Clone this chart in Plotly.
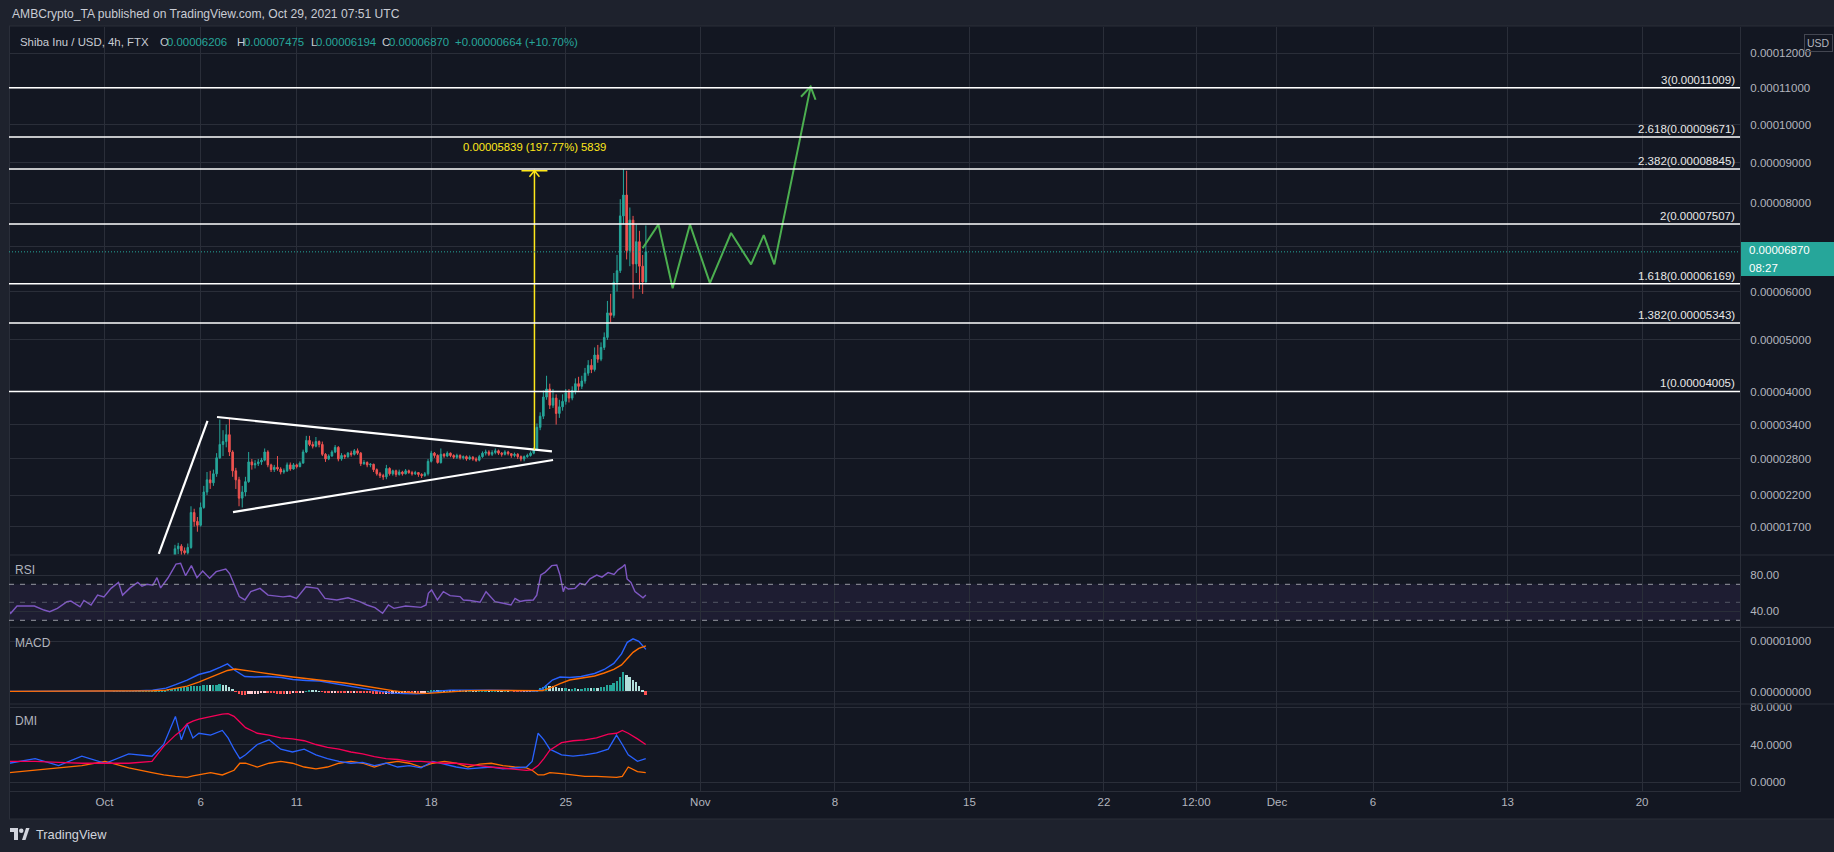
import numpy as np
import pandas as pd
import plotly.graph_objects as go

# ============================ DATA ============================
BASE_DATE = "2021-10-01 00:00"   # day 0 for every *_day list (UTC)

# 4h candles (prices in units of 1e-5 USD); open = previous close
candle_start = "2021-10-04 12:00"
first_open_e5 = 1.08
close_e5 = [
    1.15, 1.36, 1.40,
    1.33, 1.30, 1.38, 1.92, 1.78, 1.72,
    2.00, 2.25, 2.45, 2.40, 2.55, 2.82,
    3.05, 3.10, 3.22, 2.92, 2.60, 2.45,
    2.15, 2.25, 2.42, 2.75, 2.70, 2.72,
    2.75, 2.78, 2.92, 2.70, 2.62, 2.66,
    2.63, 2.58, 2.60, 2.70, 2.63, 2.70,
    2.67, 2.73, 2.92, 3.12, 3.05, 3.02,
    3.10, 3.05, 2.88, 2.80, 2.85, 2.92,
    3.00, 2.80, 2.86, 2.84, 2.90, 2.88,
    2.94, 2.90, 2.72, 2.74, 2.70, 2.71,
    2.62, 2.55, 2.52, 2.50, 2.64, 2.55,
    2.60, 2.54, 2.58, 2.55, 2.60, 2.57,
    2.55, 2.57, 2.54, 2.52, 2.55, 2.76,
    2.90, 2.86, 2.74, 2.88, 2.85, 2.90,
    2.86, 2.83, 2.86, 2.82, 2.84, 2.80,
    2.83, 2.80, 2.78, 2.84, 2.90, 2.92,
    2.88, 2.91, 2.94, 2.90, 2.88, 2.92,
    2.89, 2.86, 2.88, 2.84, 2.80, 2.84,
    2.86, 2.90, 2.96, 3.35, 3.55, 3.90,
    4.05, 3.75, 3.88, 3.60, 3.72, 3.82,
    3.98, 3.88, 4.02, 4.15, 4.10, 4.20,
    4.35, 4.50, 4.42, 4.70, 4.62, 4.85,
    5.05, 5.55, 5.50, 6.20, 6.45, 7.70,
    8.20, 6.90, 7.60, 6.60, 7.10, 6.55,
    6.206, 6.870,
]
high_e5 = [
    1.22, 1.42, 1.45,
    1.43, 1.38, 1.44, 2.02, 1.98, 1.85,
    2.08, 2.35, 2.58, 2.60, 2.62, 2.90,
    3.49, 3.30, 3.40, 3.52, 2.95, 2.65,
    2.50, 2.35, 2.50, 2.92, 2.80, 2.78,
    2.80, 2.82, 2.98, 2.95, 2.72, 2.70,
    2.85, 2.66, 2.64, 2.74, 2.74, 2.73,
    2.72, 2.76, 2.96, 3.20, 3.20, 3.10,
    3.18, 3.12, 3.10, 2.90, 2.88, 2.95,
    3.04, 3.02, 2.90, 2.88, 2.92, 2.94,
    2.97, 2.98, 2.92, 2.78, 2.76, 2.73,
    2.72, 2.64, 2.58, 2.55, 2.70, 2.66,
    2.62, 2.62, 2.62, 2.60, 2.63, 2.62,
    2.60, 2.60, 2.58, 2.56, 2.58, 2.80,
    2.94, 2.92, 2.88, 2.98, 2.90, 2.93,
    2.91, 2.88, 2.89, 2.88, 2.86, 2.86,
    2.86, 2.85, 2.83, 2.87, 2.93, 2.96,
    2.95, 2.95, 2.98, 2.96, 2.92, 2.95,
    2.94, 2.90, 2.91, 2.90, 2.86, 2.86,
    2.89, 2.93, 3.00, 3.42, 3.62, 4.02,
    4.30, 4.15, 4.05, 3.95, 3.85, 3.95,
    4.05, 4.05, 4.10, 4.25, 4.28, 4.30,
    4.45, 4.60, 4.62, 4.85, 4.90, 4.95,
    5.15, 5.80, 5.95, 6.40, 6.80, 8.10,
    8.84, 8.80, 7.90, 7.70, 7.50, 7.35,
    6.80, 7.475,
]
low_e5 = [
    1.05, 1.12, 1.28,
    1.25, 1.22, 1.27, 1.36, 1.70, 1.62,
    1.70, 1.98, 2.20, 2.30, 2.35, 2.50,
    2.80, 2.85, 3.00, 2.85, 2.50, 2.30,
    2.02, 2.00, 2.18, 2.40, 2.62, 2.64,
    2.68, 2.70, 2.76, 2.66, 2.58, 2.58,
    2.60, 2.54, 2.55, 2.58, 2.60, 2.62,
    2.64, 2.66, 2.72, 2.90, 3.02, 2.98,
    3.00, 3.00, 2.85, 2.75, 2.78, 2.84,
    2.90, 2.76, 2.77, 2.80, 2.82, 2.84,
    2.86, 2.87, 2.68, 2.70, 2.66, 2.66,
    2.58, 2.52, 2.48, 2.45, 2.46, 2.52,
    2.52, 2.50, 2.52, 2.52, 2.54, 2.55,
    2.52, 2.53, 2.50, 2.48, 2.50, 2.52,
    2.74, 2.82, 2.72, 2.72, 2.82, 2.83,
    2.83, 2.80, 2.80, 2.79, 2.79, 2.77,
    2.78, 2.77, 2.75, 2.76, 2.82, 2.86,
    2.85, 2.85, 2.88, 2.87, 2.84, 2.86,
    2.86, 2.82, 2.83, 2.80, 2.76, 2.76,
    2.82, 2.84, 2.88, 2.95, 3.30, 3.50,
    3.85, 3.68, 3.70, 3.40, 3.52, 3.65,
    3.76, 3.80, 3.84, 3.95, 4.02, 4.05,
    4.15, 4.30, 4.35, 4.38, 4.55, 4.58,
    4.80, 5.00, 5.35, 5.45, 6.00, 6.40,
    7.50, 6.70, 6.55, 5.85, 6.40, 6.05,
    5.95, 6.194,
]

# MACD histogram, 4h bars (units of 1e-6)
hist_start = "2021-10-01 12:00"
macd_hist_e6 = [
    0.03, 0.03, 0.04,
    0.04, 0.05, 0.05, 0.06, 0.06, 0.07,
    0.08, 0.09, 0.10, 0.12, 0.15, 0.20,
    0.25, 0.30, 0.40, 0.5, 0.6, 0.7,
    0.75, 0.8, 0.85, 1.0, 1.0, 1.0,
    1.1, 1.2, 1.25, 1.2, 1.3, 1.35,
    1.4, 1.3, 1.2, 0.9, 0.4, -0.1,
    -0.5, -0.7, -0.75, -0.6, -0.55, -0.5,
    -0.45, -0.4, -0.3, -0.35, -0.4, -0.42,
    -0.45, -0.5, -0.5, -0.45, -0.45, -0.4,
    -0.4, -0.35, -0.2, 0.05, 0.15, 0.12,
    0.1, 0.05, -0.1, -0.2, -0.25, -0.2,
    -0.15, -0.25, -0.3, -0.3, -0.28, -0.28,
    -0.25, -0.3, -0.38, -0.4, -0.42, -0.42,
    -0.5, -0.55, -0.6, -0.6, -0.5, -0.5,
    -0.45, -0.4, -0.38, -0.35, -0.3, -0.3,
    -0.3, -0.25, -0.25, -0.22, -0.15, 0.05,
    0.2, 0.22, 0.18, 0.22, 0.2, 0.2,
    0.18, 0.15, 0.15, 0.12, 0.12, 0.1,
    0.1, 0.08, 0.05, 0.06, 0.1, 0.12,
    0.1, 0.1, 0.12, 0.1, 0.06, 0.06,
    0.04, 0.0, -0.02, -0.05, -0.1, -0.08,
    -0.05, -0.02, 0.05, 0.3, 0.6, 0.9,
    1.2, 1.1, 1.05, 0.8, 0.7, 0.65,
    0.65, 0.55, 0.55, 0.6, 0.55, 0.55,
    0.6, 0.7, 0.65, 0.75, 0.7, 0.8,
    0.9, 1.2, 1.3, 1.7, 2.0, 2.9,
    3.9, 3.3, 2.9, 2.2, 1.8, 1.0,
    0.3, -0.8,
]

# MACD / signal lines (units of 1e-6)
macd_day = [-4.95, -2.0, 0.0, 1.5, 2.5, 3.2, 3.7, 4.3, 4.9, 5.5, 6.0, 6.4, 6.8, 7.3, 7.8,
            8.5, 9.2, 9.8, 10.5, 11.2, 11.8, 12.5, 13.2, 13.8, 14.5, 15.0, 15.6, 16.2, 16.8,
            17.3, 18.0, 19.0, 20.0, 21.0, 22.0, 22.5, 22.8, 23.3, 23.7, 24.2, 24.8, 25.5,
            26.0, 26.5, 26.9, 27.2, 27.5, 27.8, 28.17]
macd_e6 = [0.05, 0.08, 0.1, 0.15, 0.3, 0.7, 1.4, 2.3, 3.4, 4.0, 4.8, 5.5, 4.2, 3.0, 2.9,
           3.0, 2.8, 2.4, 2.2, 2.1, 1.7, 1.2, 0.8, 0.4, 0.0, -0.3, -0.4, -0.45, -0.35,
           0.1, 0.3, 0.35, 0.3, 0.25, 0.15, 0.1, 0.6, 2.3, 2.9, 2.8, 3.0, 3.6,
           4.4, 5.6, 7.5, 9.8, 10.5, 10.0, 8.4]
signal_e6 = [0.05, 0.07, 0.08, 0.12, 0.18, 0.3, 0.6, 1.1, 1.9, 2.8, 3.6, 4.2, 4.5, 4.2, 3.9,
             3.5, 3.2, 2.9, 2.6, 2.4, 2.1, 1.7, 1.3, 0.9, 0.5, 0.2, -0.1, -0.3, -0.35,
             -0.2, 0.05, 0.2, 0.25, 0.25, 0.2, 0.15, 0.2, 0.9, 1.6, 2.3, 2.65, 3.1,
             3.7, 4.4, 5.3, 6.5, 7.8, 8.6, 9.1]

# RSI
rsi_day = [-4.95, -4.88, -4.55, -3.65, -3.15, -2.85, -2.45, -2.06, -1.95, -1.75,
           -1.27, -1.07, -0.70, -0.36, -0.03, 0.34, 0.73, 0.94, 1.33, 1.73,
           1.95, 2.21, 2.52, 2.73, 2.92, 3.30, 3.72, 3.96, 4.22, 4.52,
           4.81, 5.11, 5.47, 5.81, 6.31, 6.51, 7.01, 7.31, 7.61, 8.09,
           8.51, 9.29, 9.65, 9.99, 10.48, 11.09, 11.47, 12.09, 12.67, 13.28,
           13.66, 14.07, 14.47, 14.77, 15.06, 15.67, 16.47, 16.73, 16.85, 17.02,
           17.32, 17.63, 17.98, 18.50, 18.67, 19.02, 19.54, 19.85, 20.32, 20.75,
           21.15, 21.36, 21.62, 21.88, 22.31, 22.49, 22.70, 22.92, 23.27, 23.53,
           23.70, 23.87, 23.96, 24.13, 24.48, 24.74, 25.00, 25.26, 25.61, 25.88,
           26.20, 26.51, 26.72, 26.93, 27.08, 27.19, 27.39, 27.60, 27.81, 28.02,
           28.17]
rsi_value = [40, 37.8, 45.9, 45.9, 41.4, 39.6, 43.3, 49.6, 50.7, 51.4,
             45, 52, 47, 58, 56, 65.5, 72, 58, 66, 72,
             68, 70, 69, 77.4, 66, 77, 92.5, 93.3, 79.6, 90.7,
             77.4, 84.8, 76.7, 84, 87, 82, 56.3, 52.6, 61.8, 65.5,
             58, 56, 57, 54.4, 67.3, 65.5, 54.4, 52.6, 55, 50.7,
             47, 44, 37.8, 47, 43.3, 45.9, 44.4, 47, 60, 63.7,
             52.6, 61.8, 57.4, 56.3, 52.6, 52, 50, 61.8, 50.7, 49,
             47, 54.4, 51, 52, 52.6, 58, 80.3, 83.3, 90.7, 91.4,
             80.3, 61.8, 67.3, 64.8, 65.5, 71, 69.2, 76, 80.3, 78,
             83, 81, 86, 89, 92, 76, 72, 62, 58, 55,
             58]

# DMI
dmi_day = [-4.95, -3.61, -2.39, -1.18, 0.04, 1.26, 2.47, 3.08, 3.69, 4.0,
           4.30, 4.60, 4.91, 5.52, 6.13, 6.43, 6.74, 7.04, 7.34, 7.95,
           8.56, 9.17, 9.78, 10.39, 11.0, 11.6, 12.2, 12.82, 13.43, 14.04,
           14.65, 15.25, 15.86, 16.47, 17.08, 17.69, 18.3, 18.91, 19.52, 20.12,
           20.73, 21.34, 21.95, 22.25, 22.56, 22.86, 23.17, 23.78, 24.38, 24.99,
           25.6, 26.21, 26.64, 26.94, 27.25, 27.73, 28.16]
plus_di = [20, 25, 17.5, 27.5, 20, 30, 27.5, 40, 70, 45,
           62, 47, 52, 50, 55, 47, 35, 25, 29, 40,
           45, 35, 32, 35, 29, 25, 22, 20, 21, 17.5,
           20, 16, 17.5, 15, 22, 19, 16, 14, 15, 16,
           14, 15, 16, 22, 52, 45, 35, 29, 27.5, 29,
           31, 35, 50, 40, 29, 22, 25]
minus_di = [10, 12.5, 15, 17.5, 22, 15, 10, 7.5, 6, 5.5,
            5, 6.5, 7.5, 10, 7.5, 10, 12.5, 20, 20, 16,
            20, 22, 20, 16, 14, 16, 20, 22, 20, 16,
            20, 22, 20, 16, 20, 22, 20, 16, 19, 20,
            17.5, 16, 15, 12.5, 7.5, 7.5, 10, 9, 7.5, 6,
            6, 5, 5, 6, 16, 11, 10]
adx = [22, 22, 21, 20, 20, 20, 22, 38, 50, 55,
       62, 65, 67, 70, 72.5, 73, 70, 64, 58, 52,
       50, 47, 46, 44, 40, 37, 35, 32, 30, 27,
       25, 24, 22, 22, 21, 20, 20, 19, 17.5, 16,
       15, 14, 12.5, 13, 17.5, 25, 34, 42, 44, 45,
       47, 51, 52, 55, 52, 46, 40]

# Fibonacci extension levels (1e-5 USD)
fib_ratio = ["3", "2.618", "2.382", "2", "1.618", "1.382", "1"]
fib_price_e5 = [11.009, 9.671, 8.845, 7.507, 6.169, 5.343, 4.005]

# Axis ticks (the 0.00007000 label sits under the last-price tag, so its text is blank)
price_ticks_e5 = [12, 11, 10, 9, 8, 7, 6, 5, 4, 3.4, 2.8, 2.2, 1.7]
price_hidden_ticks_e5 = [7]
rsi_ticks = [80, 40]
macd_ticks_e6 = [10, 0]
dmi_ticks = [80, 40, 0]
date_tick_day = [0, 5, 10, 17, 24, 31, 38, 45, 52, 56.8, 61, 66, 73, 80]
date_tick_label = ["Oct", "6", "11", "18", "25", "Nov", "8", "15", "22", "12:00", "Dec", "6", "13", "20"]

# Drawings
projection_day = [28.0, 28.82, 29.56, 30.46, 31.5, 32.6, 33.64, 34.3, 34.85, 36.74]
projection_e5 = [6.95, 7.50, 6.07, 7.50, 6.18, 7.30, 6.59, 7.25, 6.59, 11.04]
impulse_day, impulse_e5 = [2.825, 5.36], [1.282, 3.464]
upper_day, upper_e5 = [5.853, 23.28], [3.536, 2.929]
lower_day, lower_e5 = [6.686, 23.34], [1.928, 2.783]
measure_day = 22.37
measure_from_e5, measure_to_e5 = 2.96, 8.80
measure_label = "0.00005839 (197.77%) 5839"

last_price_e5 = 6.870
countdown = "08:27"
header_text = "AMBCrypto_TA published on TradingView.com, Oct 29, 2021 07:51 UTC"
symbol_text = "Shiba Inu / USD, 4h, FTX"
ohlc_letters = ["O", "H", "L", "C"]
ohlc_values = ["0.00006206", "0.00007475", "0.00006194", "0.00006870"]
change_text = "+0.00000664 (+10.70%)"

# ============================ LAYOUT CONSTANTS ============================
W, H = 1834, 852
ML, MR, MT, MB = 9, 94, 27, 61
PW, PH = W - ML - MR, H - MT - MB
PX_PER_DAY = 19.22
OCT1_PX = 104.5
X0_DAY = (ML - OCT1_PX) / PX_PER_DAY
X1_DAY = X0_DAY + PW / PX_PER_DAY

LOG_OFFSET = 9.8   # TradingView-like compressed price scale


def T(p):
    return np.log(np.asarray(p, dtype=float) + LOG_OFFSET)


T_TOP, T_BOT = 3.11745, 2.40394
PANE_PRICE = (27, 555)
PANE_RSI = (555, 627.3)
PANE_MACD = (627.3, 704)
PANE_DMI = (704, 791)
PX_PER_T = (PANE_PRICE[1] - PANE_PRICE[0]) / (T_TOP - T_BOT)

BG = "#131722"
FRAME = "#1e222d"
GRID = "#2a2e39"
TXT = "#b2b5be"
UP = "#26a69a"
DOWN = "#ef5350"
YELLOW = "#ffe81a"
FONT = "Liberation Sans, Arial, sans-serif"

base = pd.Timestamp(BASE_DATE)


def to_time(d):
    return base + pd.to_timedelta(np.asarray(d, dtype=float), unit="D")


def pxX(X):
    return (X - ML) / PW


def pxY(Y):
    return (H - MB - Y) / PH


def dom(pane):
    return [pxY(pane[1]), pxY(pane[0])]


def day_to_px(d):
    return ML + (d - X0_DAY) * PX_PER_DAY


def px_to_day(x):
    return X0_DAY + (x - ML) / PX_PER_DAY


def t_to_py(t):
    return PANE_PRICE[0] + (T_TOP - t) * PX_PER_T


def py_to_t(y):
    return T_TOP - (y - PANE_PRICE[0]) / PX_PER_T


fig = go.Figure()

# ---------------- candles ----------------
times = pd.date_range(candle_start, periods=len(close_e5), freq="4h")
open_e5 = [first_open_e5] + close_e5[:-1]
fig.add_trace(go.Candlestick(
    x=times, open=T(open_e5), high=T(high_e5), low=T(low_e5), close=T(close_e5),
    increasing=dict(line=dict(color=UP, width=1), fillcolor=UP),
    decreasing=dict(line=dict(color=DOWN, width=1), fillcolor=DOWN),
    whiskerwidth=0, hoverinfo="skip", showlegend=False, xaxis="x", yaxis="y"))

# ---------------- drawings ----------------
for dd, pp in [(impulse_day, impulse_e5), (upper_day, upper_e5), (lower_day, lower_e5)]:
    fig.add_trace(go.Scatter(x=to_time(dd), y=T(pp), mode="lines",
                             line=dict(color="#ffffff", width=2.2), hoverinfo="skip",
                             showlegend=False, yaxis="y"))

GREEN = "#4caf50"
fig.add_trace(go.Scatter(x=to_time(projection_day), y=T(projection_e5), mode="lines",
                         line=dict(color=GREEN, width=2), hoverinfo="skip",
                         showlegend=False, yaxis="y"))
# arrow head at projection tip
tip = np.array([day_to_px(projection_day[-1]), t_to_py(T(projection_e5[-1]))])
prv = np.array([day_to_px(projection_day[-2]), t_to_py(T(projection_e5[-2]))])
u = (prv - tip) / np.linalg.norm(prv - tip)
head = []
for ang in (np.radians(32), -np.radians(32)):
    c, s = np.cos(ang), np.sin(ang)
    v = np.array([c * u[0] - s * u[1], s * u[0] + c * u[1]])
    head.append(tip + 14 * v)
hx = [px_to_day(head[0][0]), px_to_day(tip[0]), px_to_day(head[1][0])]
hy = [py_to_t(head[0][1]), py_to_t(tip[1]), py_to_t(head[1][1])]
fig.add_trace(go.Scatter(x=to_time(hx), y=hy, mode="lines", line=dict(color=GREEN, width=2),
                         hoverinfo="skip", showlegend=False, yaxis="y"))

# price-range measure
fig.add_trace(go.Scatter(x=to_time([measure_day, measure_day]),
                         y=T([measure_from_e5, measure_to_e5]), mode="lines",
                         line=dict(color=YELLOW, width=1.5), hoverinfo="skip",
                         showlegend=False, yaxis="y"))
mx = day_to_px(measure_day)
my = t_to_py(T(measure_to_e5))
fig.add_trace(go.Scatter(x=to_time([px_to_day(mx - 13), px_to_day(mx + 13)]),
                         y=[py_to_t(my), py_to_t(my)], mode="lines",
                         line=dict(color=YELLOW, width=1.5), hoverinfo="skip",
                         showlegend=False, yaxis="y"))
fig.add_trace(go.Scatter(x=to_time([px_to_day(mx - 5), px_to_day(mx), px_to_day(mx + 5)]),
                         y=[py_to_t(my + 6), py_to_t(my), py_to_t(my + 6)], mode="lines",
                         line=dict(color=YELLOW, width=1.5), hoverinfo="skip",
                         showlegend=False, yaxis="y"))

# ---------------- RSI ----------------
fig.add_trace(go.Scatter(x=to_time(rsi_day), y=rsi_value, mode="lines",
                         line=dict(color="#7e57c2", width=1.4), hoverinfo="skip",
                         showlegend=False, yaxis="y2"))

# ---------------- MACD ----------------
hist_times = pd.date_range(hist_start, periods=len(macd_hist_e6), freq="4h")
hcol = []
prev = 0.0
for v in macd_hist_e6:
    if v >= 0:
        hcol.append("#26a69a" if v >= prev else "#b2dfdb")
    else:
        hcol.append("#ff5252" if v <= prev else "#ffcdd2")
    prev = v
fig.add_trace(go.Bar(x=hist_times, y=macd_hist_e6, marker=dict(color=hcol, line=dict(width=0)),
                     width=4 * 3600 * 1000 * 0.55, hoverinfo="skip", showlegend=False,
                     yaxis="y3"))
fig.add_trace(go.Scatter(x=to_time(macd_day), y=macd_e6, mode="lines",
                         line=dict(color="#2962ff", width=1.4), hoverinfo="skip",
                         showlegend=False, yaxis="y3"))
fig.add_trace(go.Scatter(x=to_time(macd_day), y=signal_e6, mode="lines",
                         line=dict(color="#ff6d00", width=1.4), hoverinfo="skip",
                         showlegend=False, yaxis="y3"))

# ---------------- DMI ----------------
for vals, col in [(minus_di, "#ff6d00"), (plus_di, "#2962ff"), (adx, "#f50057")]:
    fig.add_trace(go.Scatter(x=to_time(dmi_day), y=vals, mode="lines",
                             line=dict(color=col, width=1.3), hoverinfo="skip",
                             showlegend=False, yaxis="y4"))

# ---------------- axes ----------------
tickfont = dict(family=FONT, size=11.5, color=TXT)


def yax(pane, rng, tv, tt):
    return dict(domain=dom(pane), range=rng, side="right", anchor="x",
                tickvals=tv, ticktext=tt, showgrid=True, gridcolor=GRID, gridwidth=1,
                zeroline=False, showline=True, linecolor=GRID, ticks="",
                ticklabelstandoff=7, tickfont=tickfont, fixedrange=True)


rsi_top = 80 + (575.3 - PANE_RSI[0]) / 0.9
rsi_bot = 40 - (PANE_RSI[1] - 611.3) / 0.9
macd_top = 10 + (641.3 - PANE_MACD[0]) / 5.03
macd_bot = -(PANE_MACD[1] - 691.6) / 5.03
dmi_top = 80 + (707 - PANE_DMI[0]) / 0.9375
dmi_bot = -(PANE_DMI[1] - 782) / 0.9375

price_ticktext = ["" if v in price_hidden_ticks_e5 else f"{v * 1e-5:.8f}" for v in price_ticks_e5]

fig.update_layout(
    width=W, height=H,
    margin=dict(l=ML, r=MR, t=MT, b=MB, pad=0),
    paper_bgcolor=BG, plot_bgcolor=BG,
    showlegend=False, font=dict(family=FONT, color=TXT),
    xaxis=dict(domain=[0, 1], anchor="y4", type="date",
               range=[to_time(X0_DAY), to_time(X1_DAY)],
               tickvals=list(to_time(date_tick_day)), ticktext=date_tick_label,
               showgrid=True, gridcolor=GRID, gridwidth=1, showline=True, linecolor=GRID,
               ticks="", tickfont=tickfont, rangeslider=dict(visible=False), fixedrange=True),
    yaxis=yax(PANE_PRICE, [T_BOT, T_TOP], list(T(price_ticks_e5)), price_ticktext),
    yaxis2=yax(PANE_RSI, [rsi_bot, rsi_top], rsi_ticks, [f"{v:.2f}" for v in rsi_ticks]),
    yaxis3=yax(PANE_MACD, [macd_bot, macd_top], macd_ticks_e6,
               [f"{v * 1e-6:.8f}" for v in macd_ticks_e6]),
    yaxis4=yax(PANE_DMI, [dmi_bot, dmi_top], dmi_ticks, [f"{v:.4f}" for v in dmi_ticks]),
    bargap=0,
)

# ---------------- shapes ----------------
shapes = []
XL, XR = pxX(0), pxX(W)
# frame strips
shapes.append(dict(type="rect", xref="paper", yref="paper", x0=XL, x1=XR, y0=pxY(26), y1=pxY(0),
                   fillcolor=FRAME, line=dict(width=0), layer="below"))
shapes.append(dict(type="rect", xref="paper", yref="paper", x0=XL, x1=XR, y0=pxY(H), y1=pxY(819),
                   fillcolor=FRAME, line=dict(width=0), layer="below"))
shapes.append(dict(type="rect", xref="paper", yref="paper", x0=XL, x1=pxX(9), y0=pxY(819), y1=pxY(26),
                   fillcolor=FRAME, line=dict(width=0), layer="below"))
# frame border lines
for yy in (26, 819):
    shapes.append(dict(type="line", xref="paper", yref="paper", x0=pxX(9), x1=XR, y0=pxY(yy), y1=pxY(yy),
                       line=dict(color=GRID, width=1)))
shapes.append(dict(type="line", xref="paper", yref="paper", x0=pxX(9.5), x1=pxX(9.5), y0=pxY(819),
                   y1=pxY(26), line=dict(color=GRID, width=1)))
# pane separators
for yy in (PANE_RSI[0], PANE_MACD[0], PANE_DMI[0]):
    shapes.append(dict(type="line", xref="paper", yref="paper", x0=pxX(9), x1=XR, y0=pxY(yy), y1=pxY(yy),
                       line=dict(color=GRID, width=1.2)))
# RSI band
shapes.append(dict(type="rect", xref="paper", yref="y2", x0=0, x1=1, y0=30, y1=70,
                   fillcolor="rgba(126,87,194,0.10)", line=dict(width=0), layer="below"))
for lvl, col in [(70, "#9598a1"), (50, "rgba(120,123,134,0.6)"), (30, "#9598a1")]:
    shapes.append(dict(type="line", xref="paper", yref="y2", x0=0, x1=1, y0=lvl, y1=lvl,
                       line=dict(color=col, width=1, dash="5px,6px")))
# fib levels
for p in fib_price_e5:
    shapes.append(dict(type="line", xref="paper", yref="y", x0=0, x1=1, y0=float(T(p)), y1=float(T(p)),
                       line=dict(color="#ffffff", width=1.5), layer="above"))
# last price dotted
shapes.append(dict(type="line", xref="paper", yref="y", x0=0, x1=1,
                   y0=float(T(last_price_e5)), y1=float(T(last_price_e5)),
                   line=dict(color=UP, width=1, dash="1px,2px"), layer="above"))
# last price box on the scale
shapes.append(dict(type="rect", xref="paper", yref="paper", x0=pxX(1741), x1=XR, y0=pxY(276), y1=pxY(242),
                   fillcolor=UP, line=dict(width=0), layer="above"))
# TradingView logo (simple)
shapes.append(dict(type="rect", xref="paper", yref="paper", x0=pxX(10), x1=pxX(18), y0=pxY(832),
                   y1=pxY(828), fillcolor="#d1d4dc", line=dict(width=0)))
shapes.append(dict(type="rect", xref="paper", yref="paper", x0=pxX(14), x1=pxX(18), y0=pxY(840),
                   y1=pxY(828), fillcolor="#d1d4dc", line=dict(width=0)))
shapes.append(dict(type="circle", xref="paper", yref="paper", x0=pxX(19), x1=pxX(23.5), y0=pxY(833),
                   y1=pxY(828.5), fillcolor="#d1d4dc", line=dict(width=0)))
shapes.append(dict(type="path", xref="paper", yref="paper",
                   path=f"M {pxX(22)},{pxY(840)} L {pxX(26)},{pxY(828)} L {pxX(29.5)},{pxY(828)} "
                        f"L {pxX(25.5)},{pxY(840)} Z",
                   fillcolor="#d1d4dc", line=dict(width=0)))
fig.update_layout(shapes=shapes)

# ---------------- annotations ----------------
anns = []


def ann(text, X, Y, size=11.5, color=TXT, xanchor="left", yanchor="middle", **kw):
    d = dict(xref="paper", yref="paper", x=pxX(X), y=pxY(Y), text=text, showarrow=False,
             xanchor=xanchor, yanchor=yanchor, font=dict(family=FONT, size=size, color=color))
    d.update(kw)
    anns.append(d)


ann(header_text, 10, 14, size=12.1, color="#c9ccd4")
ann(symbol_text, 17.5, 42, size=11.4, color="#c9ccd4")
letter_x = [157.8, 234.8, 308.6, 380.2]
for lt, val, lx in zip(ohlc_letters, ohlc_values, letter_x):
    ann(lt, lx, 42, size=11.4, color="#c9ccd4")
    ann(val, lx + (7.2 if lt != "L" else 5.6), 42, size=11.4, color=UP)
ann(change_text, 453, 42, size=11.4, color=UP)

ann("RSI", 13, 570, size=12, color=TXT)
ann("MACD", 13, 642.5, size=12, color=TXT)
ann("DMI", 13, 721, size=12, color=TXT)

for r, p in zip(fib_ratio, fib_price_e5):
    anns.append(dict(xref="paper", yref="y", x=pxX(1737), y=float(T(p)),
                     text=f"{r}({p * 1e-5:.8f})", showarrow=False, xanchor="right",
                     yanchor="bottom", font=dict(family=FONT, size=11.5, color="#e8e8e8")))

anns.append(dict(xref="x", yref="y", x=to_time(measure_day), y=float(T(measure_to_e5)),
                 text=measure_label, showarrow=False, xanchor="center", yanchor="bottom",
                 yshift=16, font=dict(family=FONT, size=11.3, color=YELLOW)))

ann(f"{last_price_e5 * 1e-5:.8f}", 1747, 250.5, size=11.5, color="#ffffff")
ann(countdown, 1747, 267.5, size=11.5, color="#ffffff")
ann("USD", 1819, 42.5, size=10.5, color=TXT, xanchor="center",
    bordercolor="#434651", borderwidth=1, borderpad=2)
ann("TradingView", 34, 834, size=12.8, color="#d1d4dc")

fig.update_layout(annotations=anns)

fig.write_html("out.html", config={"displayModeBar": False},
               post_script="document.body.style.margin='0';document.body.style.overflow='hidden';")
